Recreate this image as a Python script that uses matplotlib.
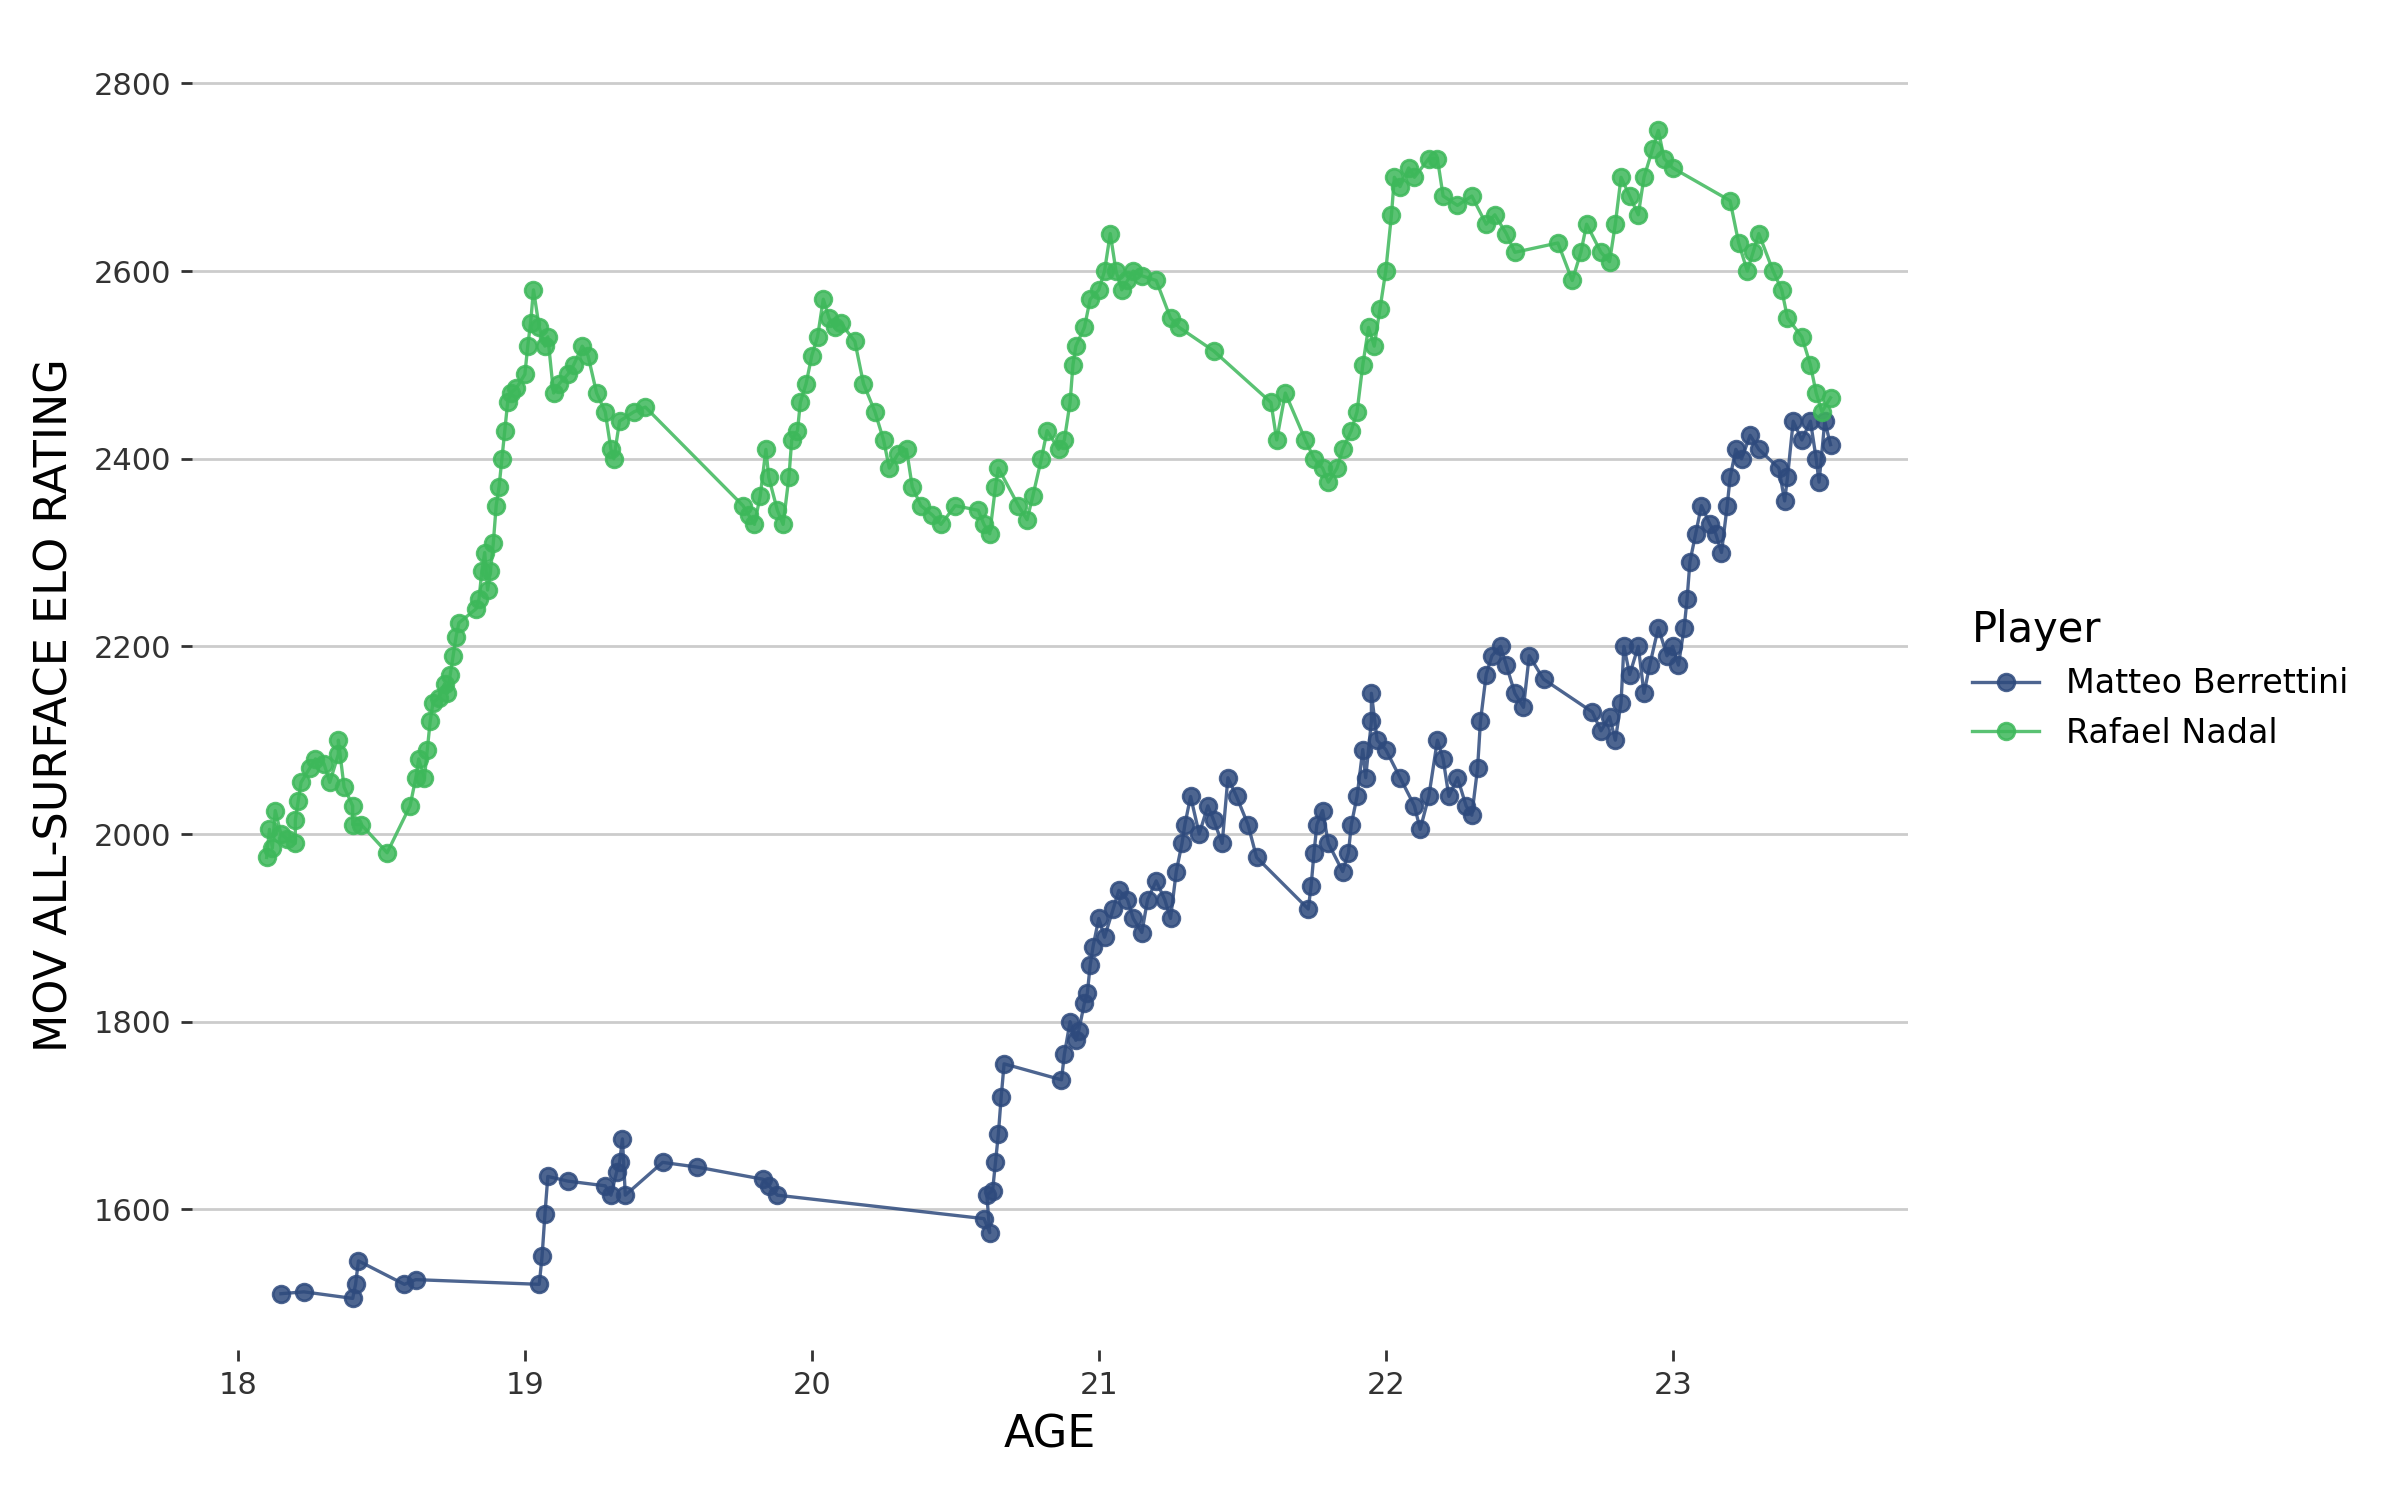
import matplotlib
matplotlib.use("Agg")
import matplotlib.pyplot as plt

nadal_age = [18.1,18.11,18.12,18.13,18.15,18.17,18.2,18.2,18.21,18.22,18.25,18.27,18.3,18.32,18.35,18.35,18.37,18.4,18.4,18.43,18.52,18.6,18.62,18.63,18.65,18.66,18.67,18.68,18.7,18.72,18.73,18.74,18.75,18.76,18.77,18.83,18.84,18.85,18.86,18.87,18.88,18.89,18.9,18.91,18.92,18.93,18.94,18.95,18.97,19.0,19.01,19.02,19.03,19.05,19.07,19.08,19.1,19.12,19.15,19.17,19.2,19.22,19.25,19.28,19.3,19.31,19.33,19.38,19.42,19.76,19.78,19.8,19.82,19.84,19.85,19.88,19.9,19.92,19.93,19.95,19.96,19.98,20.0,20.02,20.04,20.06,20.08,20.1,20.15,20.18,20.22,20.25,20.27,20.3,20.33,20.35,20.38,20.42,20.45,20.5,20.58,20.6,20.62,20.64,20.65,20.72,20.75,20.77,20.8,20.82,20.86,20.88,20.9,20.91,20.92,20.95,20.97,21.0,21.02,21.04,21.06,21.08,21.1,21.12,21.15,21.2,21.25,21.28,21.4,21.6,21.62,21.65,21.72,21.75,21.78,21.8,21.83,21.85,21.88,21.9,21.92,21.94,21.96,21.98,22.0,22.02,22.03,22.05,22.08,22.1,22.15,22.18,22.2,22.25,22.3,22.35,22.38,22.42,22.45,22.6,22.65,22.68,22.7,22.75,22.78,22.8,22.82,22.85,22.88,22.9,22.93,22.95,22.97,23.0,23.2,23.23,23.26,23.28,23.3,23.35,23.38,23.4,23.45,23.48,23.5,23.52,23.55]
nadal_elo = [1975,2005,1985,2025,2000,1995,1990,2015,2035,2055,2070,2080,2075,2055,2085,2100,2050,2030,2010,2010,1980,2030,2060,2080,2060,2090,2120,2140,2145,2160,2150,2170,2190,2210,2225,2240,2250,2280,2300,2260,2280,2310,2350,2370,2400,2430,2460,2470,2475,2490,2520,2545,2580,2540,2520,2530,2470,2480,2490,2500,2520,2510,2470,2450,2410,2400,2440,2450,2455,2350,2340,2330,2360,2410,2380,2345,2330,2380,2420,2430,2460,2480,2510,2530,2570,2550,2540,2545,2525,2480,2450,2420,2390,2405,2410,2370,2350,2340,2330,2350,2345,2330,2320,2370,2390,2350,2335,2360,2400,2430,2410,2420,2460,2500,2520,2540,2570,2580,2600,2640,2600,2580,2590,2600,2595,2590,2550,2540,2515,2460,2420,2470,2420,2400,2390,2375,2390,2410,2430,2450,2500,2540,2520,2560,2600,2660,2700,2690,2710,2700,2720,2720,2680,2670,2680,2650,2660,2640,2620,2630,2590,2620,2650,2620,2610,2650,2700,2680,2660,2700,2730,2750,2720,2710,2675,2630,2600,2620,2640,2600,2580,2550,2530,2500,2470,2450,2465]

berr_age = [18.15,18.23,18.4,18.41,18.42,18.58,18.62,19.05,19.06,19.07,19.08,19.15,19.28,19.3,19.32,19.33,19.34,19.35,19.48,19.6,19.83,19.85,19.88,20.6,20.62,20.61,20.63,20.64,20.65,20.66,20.67,20.87,20.88,20.9,20.92,20.93,20.95,20.96,20.97,20.98,21.0,21.02,21.05,21.07,21.1,21.12,21.15,21.17,21.2,21.23,21.25,21.27,21.29,21.3,21.32,21.35,21.38,21.4,21.43,21.45,21.48,21.52,21.55,21.73,21.74,21.75,21.76,21.78,21.8,21.85,21.87,21.88,21.9,21.92,21.93,21.95,21.95,21.97,22.0,22.05,22.1,22.12,22.15,22.18,22.2,22.22,22.25,22.28,22.3,22.32,22.33,22.35,22.37,22.4,22.42,22.45,22.48,22.5,22.55,22.72,22.75,22.78,22.8,22.82,22.83,22.85,22.88,22.9,22.92,22.95,22.98,23.0,23.02,23.04,23.05,23.06,23.08,23.1,23.13,23.15,23.17,23.19,23.2,23.22,23.24,23.27,23.3,23.37,23.39,23.4,23.42,23.45,23.48,23.5,23.51,23.53,23.55]
berr_elo = [1510,1512,1505,1520,1545,1520,1525,1520,1550,1595,1635,1630,1625,1615,1640,1650,1675,1615,1650,1645,1632,1625,1615,1590,1575,1615,1620,1650,1680,1720,1755,1738,1765,1800,1780,1790,1820,1830,1860,1880,1910,1890,1920,1940,1930,1910,1895,1930,1950,1930,1910,1960,1990,2010,2040,2000,2030,2015,1990,2060,2040,2010,1975,1920,1945,1980,2010,2025,1990,1960,1980,2010,2040,2090,2060,2120,2150,2100,2090,2060,2030,2005,2040,2100,2080,2040,2060,2030,2020,2070,2120,2170,2190,2200,2180,2150,2135,2190,2165,2130,2110,2125,2100,2140,2200,2170,2200,2150,2180,2220,2190,2200,2180,2220,2250,2290,2320,2350,2330,2320,2300,2350,2380,2410,2400,2425,2410,2390,2355,2380,2440,2420,2440,2400,2375,2440,2415]

NAVY = "#2E4A7D"
GREEN = "#3DB85A"

fig = plt.figure(figsize=(12, 7.5), dpi=200)
ax = fig.add_axes([0.08, 0.1, 0.715, 0.86])
for a, e, c, lab in [(berr_age, berr_elo, NAVY, "Matteo Berrettini"),
                     (nadal_age, nadal_elo, GREEN, "Rafael Nadal")]:
    ax.plot(a, e, color=c, lw=1.2, marker="o", ms=6, alpha=0.85, label=lab)

ax.set_xlim(17.84, 23.82)
ax.set_ylim(1450, 2825)
ax.set_xticks([18, 19, 20, 21, 22, 23])
ax.set_yticks([1600, 1800, 2000, 2200, 2400, 2600, 2800])
ax.grid(axis="y", color="#cccccc", lw=1)
ax.set_axisbelow(True)
for s in ax.spines.values():
    s.set_visible(False)
ax.tick_params(colors="#333333", labelsize=11, length=4, width=1)
ax.set_xlabel("AGE", fontsize=16, labelpad=5)
ax.set_ylabel("MOV ALL-SURFACE ELO RATING", fontsize=16, labelpad=6)
leg = ax.legend(title="Player", loc="center left", bbox_to_anchor=(1.02, 0.52),
                frameon=False, fontsize=12, title_fontsize=15)
leg._legend_box.align = "left"
fig.savefig("out.png")
